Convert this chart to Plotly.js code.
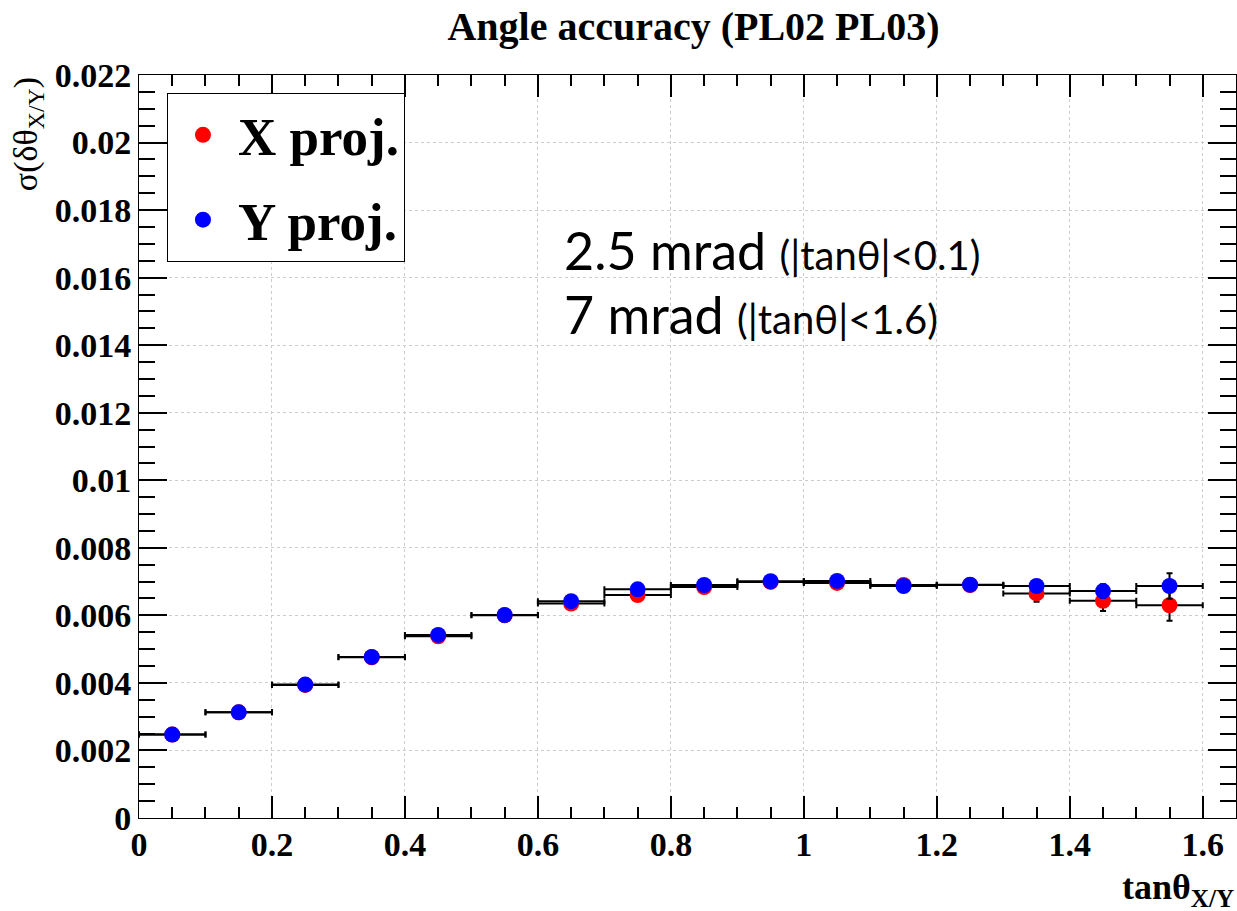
<!DOCTYPE html>
<html>
<head>
<meta charset="utf-8">
<script src="https://cdn.plot.ly/plotly-3.0.1.min.js"></script>
<style>html,body{margin:0;padding:0;background:#fff;}#chart{width:1237px;height:911px;}</style>
</head>
<body>
<div id="chart"></div>
<script>
// bin centres (tanθ_X/Y) and half-width of each bin
const binCenters = [0.05, 0.15, 0.25, 0.35, 0.45, 0.55, 0.65, 0.75, 0.85, 0.95, 1.05, 1.15, 1.25, 1.35, 1.45, 1.55];
const binHalfWidth = [0.05, 0.05, 0.05, 0.05, 0.05, 0.05, 0.05, 0.05, 0.05, 0.05, 0.05, 0.05, 0.05, 0.05, 0.05, 0.05];
// σ(δθ_X) : X projection
const xProj = [0.00247, 0.00313, 0.00394, 0.00476, 0.00538, 0.00600, 0.00635, 0.00660, 0.00684, 0.00699, 0.00696, 0.00690, 0.00690, 0.00665, 0.00643, 0.00630];
const xProjErr = [0.00003, 0.00003, 0.00003, 0.00003, 0.00003, 0.00003, 0.00004, 0.00005, 0.00005, 0.00006, 0.00007, 0.00008, 0.00010, 0.00025, 0.00030, 0.00046];
// σ(δθ_Y) : Y projection
const yProj = [0.00247, 0.00313, 0.00395, 0.00477, 0.00542, 0.00601, 0.00642, 0.00677, 0.00690, 0.00701, 0.00702, 0.00687, 0.00691, 0.00687, 0.00672, 0.00687];
const yProjErr = [0.00003, 0.00003, 0.00003, 0.00003, 0.00003, 0.00003, 0.00004, 0.00005, 0.00005, 0.00006, 0.00007, 0.00008, 0.00010, 0.00015, 0.00020, 0.00038];

const serif = "Liberation Serif, Times New Roman, serif";
const sans = "Lato, Liberation Sans, sans-serif";

function trace(name, ys, errs, color) {
  return {
    type: 'scatter', mode: 'markers', name: name, legendgroup: name,
    x: binCenters, y: ys,
    marker: {color: color, size: 16},
    error_x: {type: 'data', array: binHalfWidth, color: '#000', thickness: 2, width: 3},
    error_y: {type: 'data', array: errs, color: '#000', thickness: 2, width: 3}
  };
}

const data = [
  trace('X proj.', xProj, xProjErr, '#ff0000'),
  trace('Y proj.', yProj, yProjErr, '#0000ff')
];

const axisCommon = {
  showline: true, linecolor: '#000', linewidth: 1, mirror: 'allticks',
  ticks: 'inside', tickcolor: '#000', tickwidth: 2,
  showgrid: true, gridcolor: '#cccccc', griddash: 'dot', gridwidth: 1,
  zeroline: false,
  tickfont: {family: serif, size: 34, color: '#000', weight: 'bold'}
};

const layout = {
  width: 1237, height: 911,
  paper_bgcolor: '#fff', plot_bgcolor: '#fff',
  margin: {l: 139, r: 1, t: 75, b: 93},
  showlegend: true,
  title: {
    text: '<b>Angle accuracy (PL02 PL03)</b>',
    font: {family: serif, size: 40, color: '#000'},
    x: 0.5606, xanchor: 'center', xref: 'container',
    y: 0.971, yanchor: 'middle', yref: 'container'
  },
  xaxis: Object.assign({}, axisCommon, {
    range: [0, 1.65], dtick: 0.2, tick0: 0, ticklen: 22, ticklabelstandoff: -4,
    minor: {dtick: 0.05, ticks: 'inside', ticklen: 11, tickcolor: '#000', tickwidth: 2, showgrid: false}
  }),
  yaxis: Object.assign({}, axisCommon, {
    range: [0, 0.022], dtick: 0.002, tick0: 0, ticklen: 28,
    minor: {dtick: 0.0005, ticks: 'inside', ticklen: 16, tickcolor: '#000', tickwidth: 2, showgrid: false}
  }),
  legend: {
    x: 0.0255, y: 0.976, xanchor: 'left', yanchor: 'top',
    bgcolor: '#fff', bordercolor: '#000', borderwidth: 1,
    font: {family: serif, size: 53, color: '#000', weight: 'bold'},
    itemwidth: 60, tracegroupgap: 13
  },
  annotations: [
    {
      xref: 'paper', yref: 'paper', x: 1, y: 0, xanchor: 'right', yanchor: 'top', yshift: -47,
      text: '<b>tanθ<sub>X/Y</sub></b>', showarrow: false,
      font: {family: serif, size: 36, color: '#000'}
    },
    {
      xref: 'paper', yref: 'paper', x: -0.101, y: 1, xanchor: 'center', yanchor: 'top', textangle: -90,
      text: 'σ(δθ<sub>X/Y</sub>)', showarrow: false,
      font: {family: serif, size: 34, color: '#000'}
    },
    {
      xref: 'paper', yref: 'paper', x: 0.3856, y: 0.764, xanchor: 'left', yanchor: 'middle',
      text: '2.5 mrad <span style="font-size:40px">(|tanθ|<0.1)</span>', showarrow: false,
      font: {family: sans, size: 52, color: '#000'}
    },
    {
      xref: 'paper', yref: 'paper', x: 0.3856, y: 0.678, xanchor: 'left', yanchor: 'middle',
      text: '7 mrad <span style="font-size:40px">(|tanθ|<1.6)</span>', showarrow: false,
      font: {family: sans, size: 52, color: '#000'}
    }
  ]
};

Plotly.newPlot('chart', data, layout, {displayModeBar: false, staticPlot: true});
</script>
</body>
</html>
